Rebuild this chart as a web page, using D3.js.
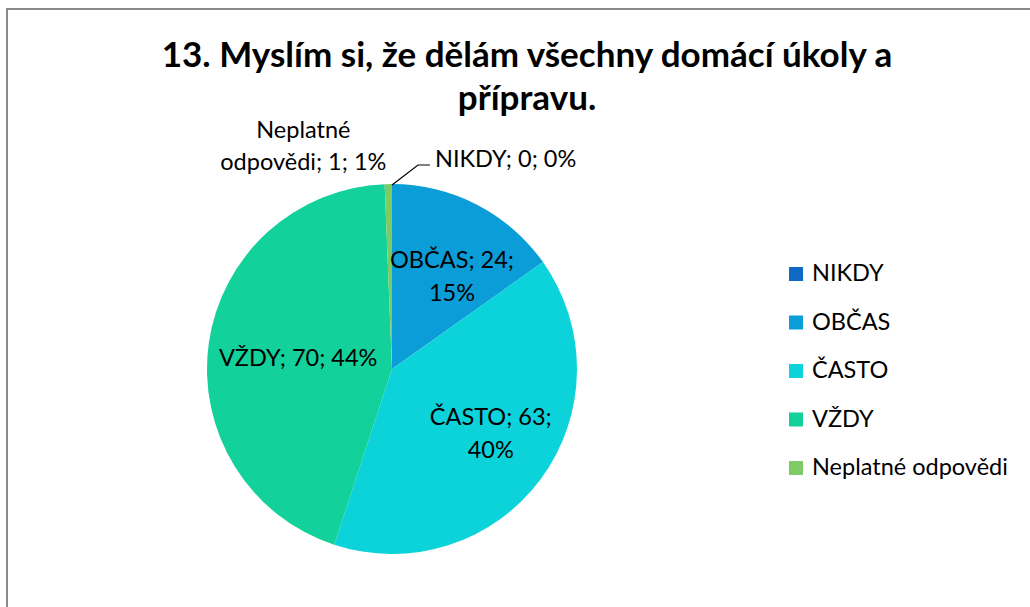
<!DOCTYPE html>
<html>
<head>
<meta charset="utf-8">
<script src="https://cdn.jsdelivr.net/npm/d3@7"></script>
<style>
  body { margin: 0; background: #fff; }
  svg { display: block; font-family: Lato, "Open Sans", sans-serif; }
</style>
</head>
<body>
<svg id="chart" width="1030" height="607"></svg>
<script>
// data
var categories = ["NIKDY", "OBČAS", "ČASTO", "VŽDY", "Neplatné odpovědi"];
var counts = [0, 24, 63, 70, 1];
var percents = ["0%", "15%", "40%", "44%", "1%"];
var colors = ["#1169c6", "#0a9dd8", "#0cd2da", "#12d19a", "#7ecb65"];
var titleLines = ["13. Myslím si, že dělám všechny domácí úkoly a", "přípravu."];

var svg = d3.select("#chart");
var cx = 392, cy = 369, R = 185;
var fs = 23.5;

// chart frame (cut off at right & bottom like the original)
svg.append("rect")
  .attr("x", 7).attr("y", 9)
  .attr("width", 1040).attr("height", 620)
  .attr("fill", "none")
  .attr("stroke", "#8a8a8a")
  .attr("stroke-width", 2);

svg.append("text")
  .attr("text-anchor", "middle")
  .attr("font-weight", "bold")
  .attr("font-size", 35)
  .attr("fill", "#000")
  .selectAll("tspan")
  .data(titleLines)
  .enter().append("tspan")
  .attr("x", 527)
  .attr("y", function(d, i) { return 67 + i * 43; })
  .text(function(d) { return d; });

var pie = d3.pie().sort(null).value(function(d) { return d; });
var arcs = pie(counts);
var arc = d3.arc().innerRadius(0).outerRadius(R);

var g = svg.append("g").attr("transform", "translate(" + cx + "," + cy + ")");

g.selectAll("path.slice")
  .data(arcs)
  .enter().append("path")
  .attr("class", "slice")
  .attr("d", arc)
  .attr("fill", function(d, i) { return colors[i]; });

function pointAt(angle, r) {
  return [Math.sin(angle) * r, -Math.cos(angle) * r];
}

// inside labels (k = fraction of radius, da = angle nudge in degrees)
var inside = [
  { i: 1, k: 0.59, da: 6, lines: ["OBČAS; 24;", "15%"] },
  { i: 2, k: 0.64, da: -3, lines: ["ČASTO; 63;", "40%"] },
  { i: 3, k: 0.51, da: -2, lines: ["VŽDY; 70; 44%"] }
];
inside.forEach(function(o) {
  var a = arcs[o.i];
  var p = pointAt((a.startAngle + a.endAngle) / 2 + o.da * Math.PI / 180, R * o.k);
  var lh = 33;
  var y0 = p[1] - (o.lines.length - 1) * lh / 2 + 7;
  g.append("text")
    .attr("text-anchor", "middle")
    .attr("font-size", fs)
    .attr("fill", "#000")
    .selectAll("tspan")
    .data(o.lines)
    .enter().append("tspan")
    .attr("x", p[0])
    .attr("y", function(d, j) { return y0 + j * lh; })
    .text(function(d) { return d; });
});

// outside label: Neplatné odpovědi
var aN = arcs[4];
var pN = pointAt((aN.startAngle + aN.endAngle) / 2, R);
g.append("text")
  .attr("text-anchor", "middle")
  .attr("font-size", fs)
  .attr("fill", "#000")
  .selectAll("tspan")
  .data(["Neplatné", "odpovědi; 1; 1%"])
  .enter().append("tspan")
  .attr("x", pN[0] - 85)
  .attr("y", function(d, j) { return pN[1] - 46 + j * 32; })
  .text(function(d) { return d; });

// outside label: NIKDY with leader line
var aK = arcs[0];
var pK = pointAt(aK.startAngle, R - 1);
g.append("polyline")
  .attr("points", [pK, [pK[0] + 26, pK[1] - 20], [pK[0] + 38, pK[1] - 20]].map(function(p) { return p.join(","); }).join(" "))
  .attr("fill", "none")
  .attr("stroke", "#000")
  .attr("stroke-width", 1.2);
g.append("text")
  .attr("x", pK[0] + 43)
  .attr("y", pK[1] - 18)
  .attr("font-size", fs)
  .attr("fill", "#000")
  .text(categories[0] + "; " + counts[0] + "; " + percents[0]);

// legend
var legend = svg.append("g").attr("transform", "translate(789,267)");
var item = legend.selectAll("g")
  .data(categories)
  .enter().append("g")
  .attr("transform", function(d, i) { return "translate(0," + i * 48.5 + ")"; });
item.append("rect")
  .attr("width", 14).attr("height", 14)
  .attr("fill", function(d, i) { return colors[i]; });
item.append("text")
  .attr("x", 23).attr("y", 14)
  .attr("font-size", fs)
  .attr("fill", "#000")
  .text(function(d) { return d; });
</script>
</body>
</html>
